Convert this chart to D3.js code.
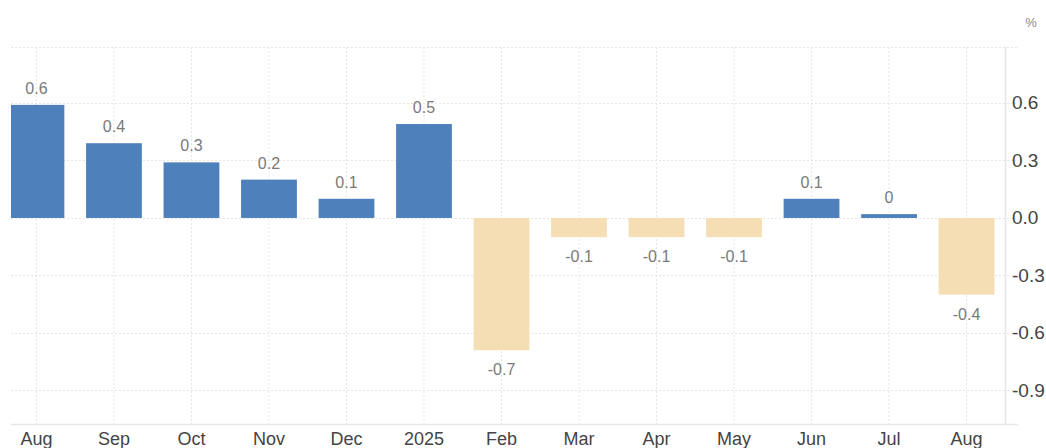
<!DOCTYPE html>
<html>
<head>
<meta charset="utf-8">
<script src="https://cdn.jsdelivr.net/npm/d3@7"></script>
<style>
  html, body { margin: 0; padding: 0; background: #fff; }
  svg { display: block; font-family: "Liberation Sans", Arial, sans-serif; }
</style>
</head>
<body>
<svg id="chart" width="1046" height="448"></svg>
<script>
const categories = ["Aug", "Sep", "Oct", "Nov", "Dec", "2025", "Feb", "Mar", "Apr", "May", "Jun", "Jul", "Aug"];
const values = [0.59, 0.39, 0.29, 0.2, 0.1, 0.49, -0.69, -0.1, -0.1, -0.1, 0.1, 0.02, -0.4];
const valueLabels = ["0.6", "0.4", "0.3", "0.2", "0.1", "0.5", "-0.7", "-0.1", "-0.1", "-0.1", "0.1", "0", "-0.4"];
const yTicks = [0.6, 0.3, 0.0, -0.3, -0.6, -0.9];
const yTickLabels = ["0.6", "0.3", "0.0", "-0.3", "-0.6", "-0.9"];
const unitLabel = "%";

const W = 1046, H = 448;
const plotLeft = 11, plotRight = 1005, plotTop = 47, plotBottom = 424;
const posColor = "#4e80bc", negColor = "#f5deb3";
const gridColor = "#e6e6e6";

const svg = d3.select("#chart");
const idx = categories.map((c, i) => i);

const x = d3.scaleBand().domain(idx).range([-2.3, 1005.3]).paddingInner(0.28).paddingOuter(0.14);
const y = d3.scaleLinear().domain([-1.075, 0.892]).range([plotBottom, plotTop]);

svg.append("defs").append("clipPath").attr("id", "plotclip")
  .append("rect").attr("x", plotLeft).attr("y", 0).attr("width", plotRight - plotLeft).attr("height", H);

// vertical grid
svg.append("g").selectAll("line").data(idx).join("line")
  .attr("x1", d => x(d) + x.bandwidth() / 2).attr("x2", d => x(d) + x.bandwidth() / 2)
  .attr("y1", plotTop).attr("y2", plotBottom)
  .attr("stroke", gridColor).attr("stroke-width", 1).attr("stroke-dasharray", "2,2");

// horizontal grid
svg.append("g").selectAll("line").data(yTicks).join("line")
  .attr("x1", plotLeft).attr("x2", 1016)
  .attr("y1", d => Math.round(y(d)) + 0.5).attr("y2", d => Math.round(y(d)) + 0.5)
  .attr("stroke", gridColor).attr("stroke-width", 1).attr("stroke-dasharray", "2,2");

// top border (dotted), bottom axis, right border
svg.append("line").attr("x1", plotLeft).attr("x2", 1018).attr("y1", plotTop + 0.5).attr("y2", plotTop + 0.5)
  .attr("stroke", gridColor).attr("stroke-dasharray", "2,2");
svg.append("line").attr("x1", plotLeft).attr("x2", 1018).attr("y1", plotBottom + 0.5).attr("y2", plotBottom + 0.5)
  .attr("stroke", gridColor).attr("stroke-width", 1.5);
svg.append("line").attr("x1", plotRight + 0.5).attr("x2", plotRight + 0.5).attr("y1", plotTop).attr("y2", plotBottom)
  .attr("stroke", gridColor).attr("stroke-width", 1.5);

// bars
svg.append("g").attr("clip-path", "url(#plotclip)").selectAll("rect").data(idx).join("rect")
  .attr("x", d => x(d))
  .attr("width", x.bandwidth())
  .attr("y", d => Math.min(y(values[d]), y(0)))
  .attr("height", d => Math.abs(y(values[d]) - y(0)))
  .attr("fill", d => values[d] >= 0 ? posColor : negColor);

// value labels
svg.append("g").selectAll("text").data(idx).join("text")
  .attr("x", d => x(d) + x.bandwidth() / 2)
  .attr("y", d => values[d] >= 0 ? y(values[d]) - 11 : y(values[d]) + 25)
  .attr("text-anchor", "middle")
  .attr("font-size", 16)
  .attr("fill", "#7a7a7a")
  .text(d => valueLabels[d]);

// x axis labels
svg.append("g").selectAll("text").data(idx).join("text")
  .attr("x", d => x(d) + x.bandwidth() / 2)
  .attr("y", 445)
  .attr("text-anchor", "middle")
  .attr("font-size", 18)
  .attr("fill", "#444")
  .text(d => categories[d]);

// y axis labels
svg.append("g").selectAll("text").data(yTicks).join("text")
  .attr("x", 1012)
  .attr("y", d => y(d) + 6.5)
  .attr("text-anchor", "start")
  .attr("font-size", 19)
  .attr("fill", "#444")
  .text((d, i) => yTickLabels[i]);

svg.append("text").attr("x", 1031).attr("y", 27).attr("text-anchor", "middle")
  .attr("font-size", 13).attr("fill", "#888").text(unitLabel);
</script>
</body>
</html>
